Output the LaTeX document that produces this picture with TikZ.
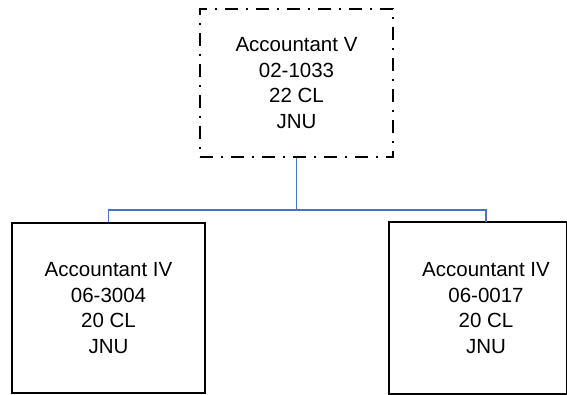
\documentclass[tikz,border=0pt]{standalone}
\usepackage{fontspec}
\setmainfont{Liberation Sans}
\definecolor{linkblue}{RGB}{68,114,196}
\begin{document}
\begin{tikzpicture}[x=1pt,y=-1pt,
  box/.style={draw=black, line width=1.6pt, minimum width=193pt, inner sep=0pt,
    align=center, font=\fontsize{20.5}{25.5}\selectfont},
  link/.style={draw=linkblue, line width=1.3pt}]
\useasboundingbox (0,0) rectangle (567,395);
\node[box, dash pattern=on 13pt off 8pt on 2pt off 8pt, minimum height=148pt] (top) at (296.5,83)
  {Accountant V\\02-1033\\22 CL\\JNU};
\node[box, minimum height=170pt] (l) at (108.5,308)
  {Accountant IV\\06-3004\\20 CL\\JNU};
\node[box, draw=none, minimum height=170pt] (r) at (486,308)
  {Accountant IV\\06-0017\\20 CL\\JNU};
\draw[line width=1.6pt] (r.north west) rectangle ([xshift=-17pt]r.south east);
\coordinate (bus) at (0,210);
\draw[link] (top.south) -- (top.south |- bus);
\draw[link] (l.north) -- (l.north |- bus) -- (r.north |- bus) -- (r.north);
\end{tikzpicture}
\end{document}
